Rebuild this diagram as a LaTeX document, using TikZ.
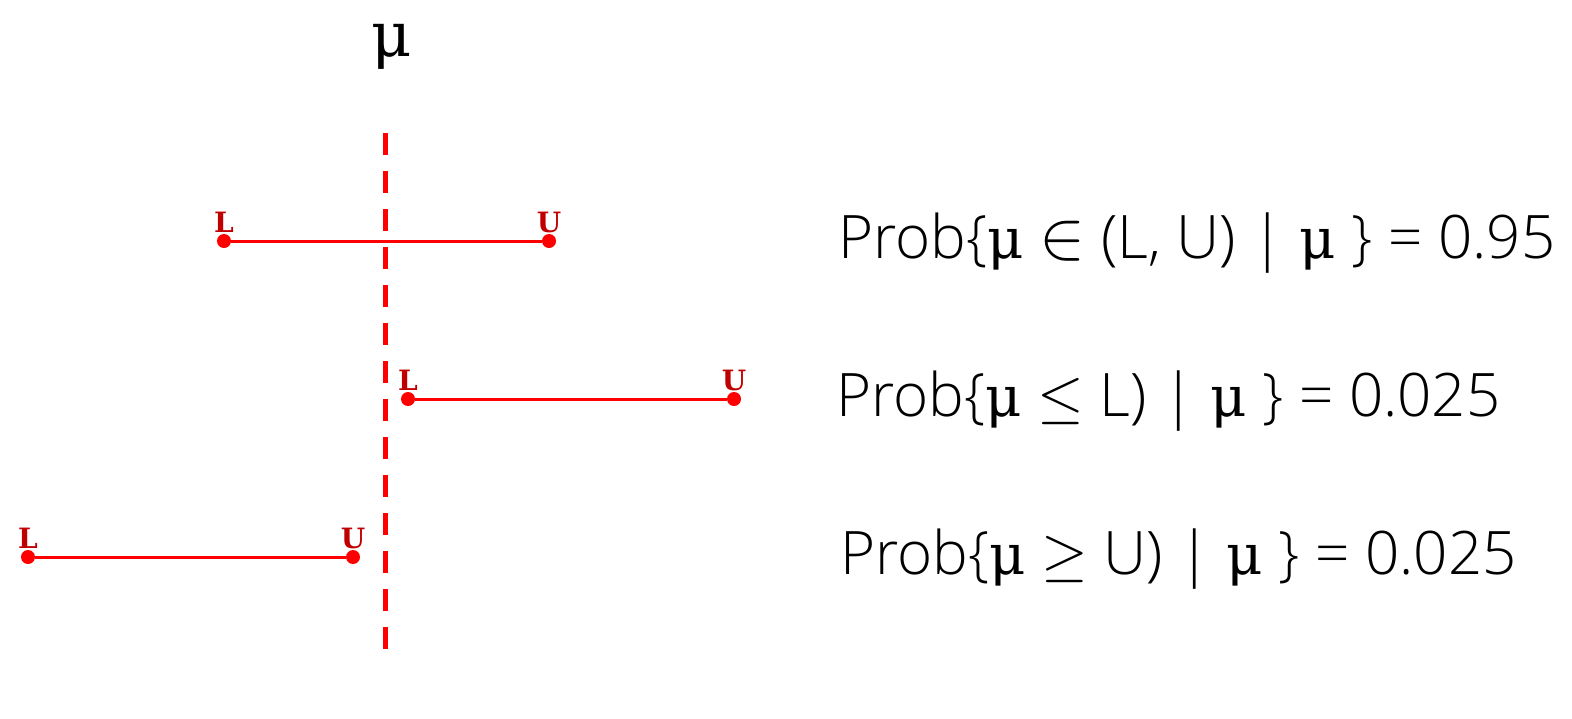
\RequirePackage{fix-cm}
\documentclass[tikz,border=0pt]{standalone}
\usepackage{fontspec}
\setmainfont{Open Sans Light}
\newfontfamily\muface{DejaVu Serif}
\newfontfamily\lblface{DejaVu Serif}
\definecolor{darkred}{HTML}{C00000}
\newcommand{\mym}{{\muface\fontsize{56}{60}\selectfont μ}}
\begin{document}
\begin{tikzpicture}[x=1pt,y=-1pt]
\tikzset{
  ci/.style={line width=3pt, draw=red},
  enddot/.style={circle, fill=red, inner sep=0pt, minimum size=14pt},
  endlbl/.style={font=\lblface\bfseries\fontsize{28}{30}\selectfont, text=darkred, inner sep=0pt, anchor=base},
  prob/.style={font=\fontsize{60}{66}\selectfont, anchor=base west, inner sep=0pt},
  mutop/.style={font=\muface\fontsize{62}{66}\selectfont, anchor=base, inner sep=0pt},
  muline/.style={draw=red, line width=5pt, dash pattern=on 22pt off 16pt},
}
\useasboundingbox (0,0) rectangle (1572,718);
\node[mutop] (mu) at (392,56) {μ};
\coordinate (mtop) at (385,133);
\coordinate (mbot) at (385,650);
\draw[muline] (mtop) -- (mbot);
% row 1
\node[enddot] (l1) at (224,241) {};
\node[enddot] (u1) at (549,241) {};
\draw[ci] (l1) -- (u1);
\node[endlbl] (tl1) at (224,232) {L};
\node[endlbl] (tu1) at (549,232) {U};
% row 2
\node[enddot] (l2) at (408,399) {};
\node[enddot] (u2) at (734,399) {};
\draw[ci] (l2) -- (u2);
\node[endlbl] (tl2) at (408,390) {L};
\node[endlbl] (tu2) at (734,390) {U};
% row 3
\node[enddot] (l3) at (28,557) {};
\node[enddot] (u3) at (353,557) {};
\draw[ci] (l3) -- (u3);
\node[endlbl] (tl3) at (28,548) {L};
\node[endlbl] (tu3) at (353,548) {U};
% texts
\node[prob] (p1) at (838,258) {Prob\{\mym\ \scalebox{1.15}{$\in$} (L, U) | \mym\ \} = 0.95};
\node[prob] (p2) at (836,416) {Prob\{\mym\ $\leq$ L) | \mym\ \} = 0.025};
\node[prob] (p3) at (840,574) {Prob\{\mym\ $\geq$ U) | \mym\ \} = 0.025};
\end{tikzpicture}
\end{document}
